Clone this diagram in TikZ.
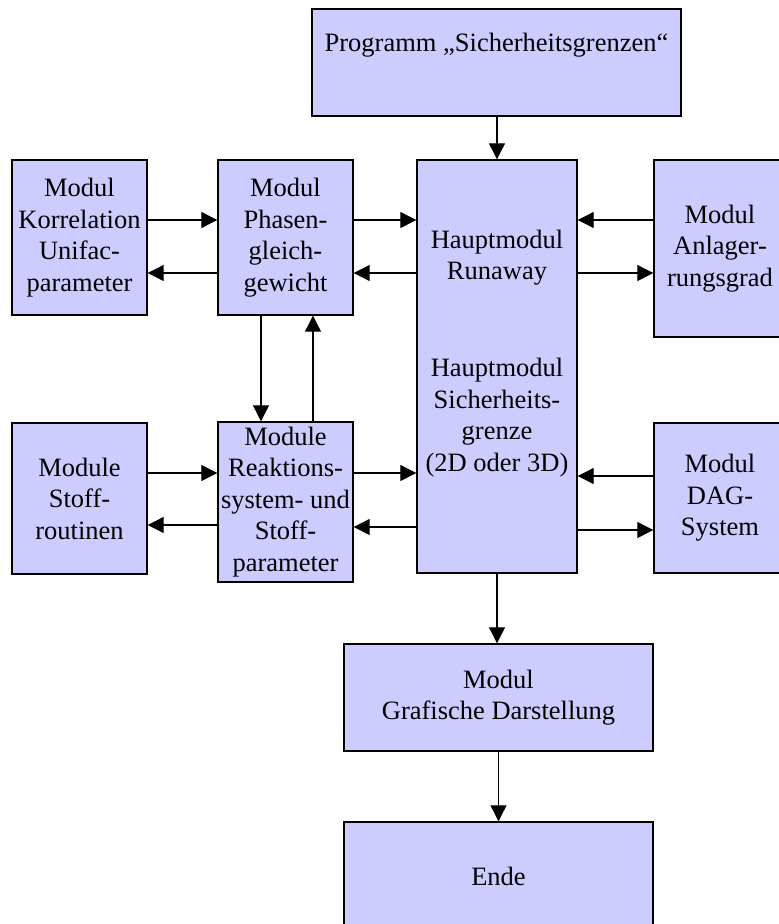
\documentclass[tikz,border=0pt]{standalone}
\usepackage{fontspec}
\setmainfont{Liberation Serif}
\usetikzlibrary{arrows.meta}
\definecolor{boxfill}{HTML}{CCCCFF}
\begin{document}
\begin{tikzpicture}[x=1pt,y=-1pt,
  box/.style={draw=black, line width=1.4pt, fill=boxfill, inner sep=0pt,
    font=\fontsize{26.5}{31.5}\selectfont, align=center},
  txt/.style={font=\fontsize{26.5}{31.5}\selectfont, align=center, inner sep=0pt},
  arr/.style={-{Triangle[length=16pt,width=16pt]}, line width=1.1pt}]
\useasboundingbox (0,0) rectangle (779,924);

\node[box, minimum width=369pt, minimum height=107pt] (prog) at (496.5,62.5) {};
\node[txt] (progt) at (496.5,45) {Programm „Sicherheitsgrenzen“};

\node[box, minimum width=135pt, minimum height=155pt] (korr) at (79.5,237.5) {Modul\\Korrelation\\Unifac-\\parameter};
\node[box, minimum width=135pt, minimum height=155pt] (phas) at (285.5,237.5) {Modul\\Phasen-\\gleich-\\gewicht};
\node[box, minimum width=160pt, minimum height=413pt] (haupt) at (497,366.5) {};
\node[txt] (hauptA) at (497,257.5) {Hauptmodul\\Runaway};
\node[txt] (hauptB) at (497,417.5) {Hauptmodul\\Sicherheits-\\grenze\\(2D oder 3D)};
\node[box, minimum width=132pt, minimum height=177pt] (anl) at (720,248.5) {Modul\\Anlager-\\rungsgrad};

\node[box, minimum width=135pt, minimum height=151pt] (stoff) at (79.5,498.5) {Module\\Stoff-\\routinen};
\node[box, minimum width=135pt, minimum height=160pt] (reakt) at (285.5,502) {Module\\Reaktions-\\system- und\\Stoff-\\parameter};
\node[box, minimum width=132pt, minimum height=150pt] (dag) at (720,498) {Modul\\DAG-\\System};

\node[box, minimum width=309pt, minimum height=107pt] (graf) at (498.5,697.5) {Modul\\Grafische Darstellung};
\node[box, minimum width=309pt, minimum height=108pt] (ende) at (498.5,876) {Ende};

\draw[arr] (prog.south -| haupt.north) -- (haupt.north);

\draw[arr] (korr.east |- 0,220) -- (phas.west |- 0,220);
\draw[arr] (phas.west |- 0,273) -- (korr.east |- 0,273);
\draw[arr] (phas.east |- 0,220) -- (haupt.west |- 0,220);
\draw[arr] (haupt.west |- 0,273) -- (phas.east |- 0,273);
\draw[arr] (anl.west |- 0,220) -- (haupt.east |- 0,220);
\draw[arr] (haupt.east |- 0,273) -- (anl.west |- 0,273);

\draw[arr] (phas.south -| 261,0) -- (reakt.north -| 261,0);
\draw[arr] (reakt.north -| 313,0) -- (phas.south -| 313,0);

\draw[arr] (stoff.east |- 0,473) -- (reakt.west |- 0,473);
\draw[arr] (reakt.west |- 0,525) -- (stoff.east |- 0,525);
\draw[arr] (reakt.east |- 0,473) -- (haupt.west |- 0,473);
\draw[arr] (haupt.west |- 0,527) -- (reakt.east |- 0,527);
\draw[arr] (dag.west |- 0,476) -- (haupt.east |- 0,476);
\draw[arr] (haupt.east |- 0,530) -- (dag.west |- 0,530);

\draw[arr] (haupt.south) -- (graf.north -| haupt.south);
\draw[arr] (graf.south) -- (ende.north);
\end{tikzpicture}
\end{document}
